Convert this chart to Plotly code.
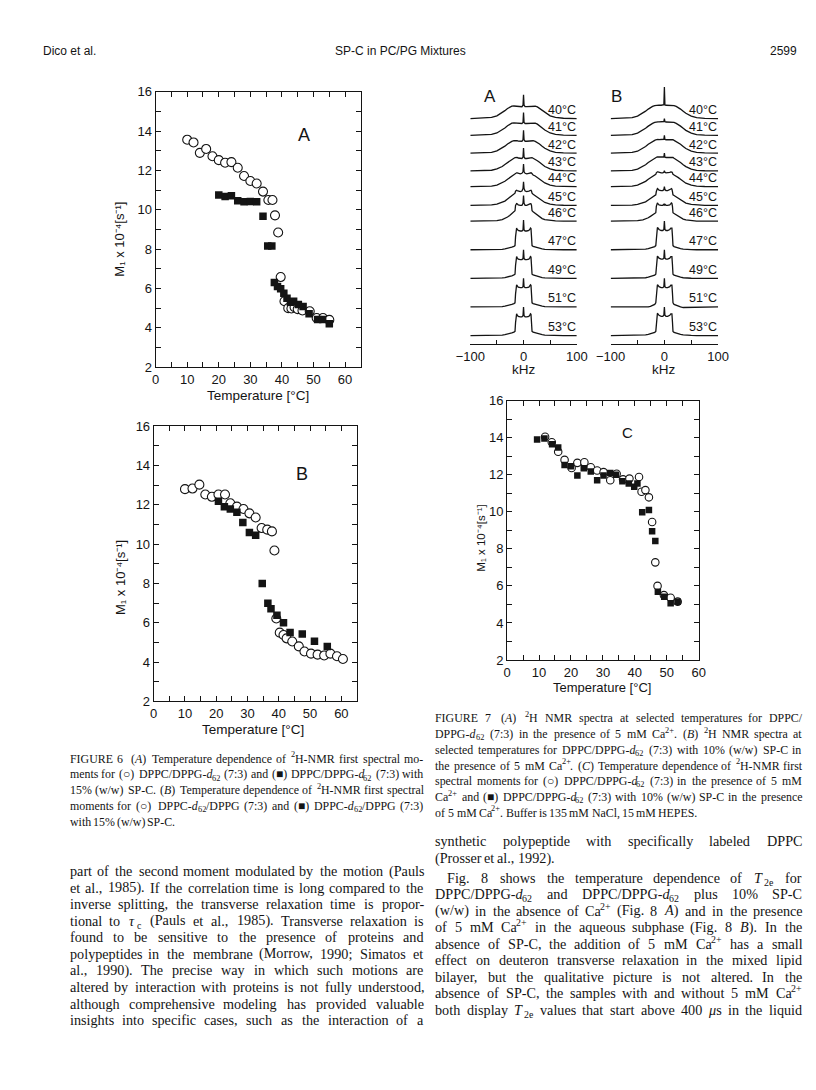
import re
import plotly.graph_objects as go

W, H = 816, 1090

# ---------------- Figure 6A data ----------------
a_circ_T = [10, 12, 14, 16, 18, 20, 22, 24, 26, 28, 30, 32, 34, 35.7, 37, 37.8, 38.8, 39.6, 40.8, 42, 43, 44, 45, 46.5, 48.8, 51, 53, 55]
a_circ_M = [13.57, 13.43, 12.9, 13.1, 12.73, 12.53, 12.4, 12.43, 12.14, 11.72, 11.47, 11.34, 10.93, 10.5, 10.5, 9.72, 8.85, 6.58, 5.35, 5.0, 4.98, 5.05, 4.95, 4.88, 4.84, 4.5, 4.5, 4.4]
a_sq_T = [20, 22, 24, 26, 28, 30, 32, 34, 35.5, 36.8, 37.6, 38.6, 39.6, 40.6, 41.6, 42.7, 43.7, 45.2, 46.7, 48.6, 51.3, 52.9, 55]
a_sq_M = [10.75, 10.68, 10.72, 10.46, 10.41, 10.43, 10.41, 9.67, 8.16, 8.16, 6.3, 6.1, 5.98, 5.76, 5.5, 5.3, 5.35, 5.18, 5.08, 4.72, 4.42, 4.42, 4.2]

# ---------------- Figure 6B data ----------------
b_circ_T = [10, 12.4, 14.6, 16.5, 18.6, 20.7, 22.8, 24.5, 26.6, 28.7, 30.6, 32.6, 34.5, 36.3, 37.8, 38.6, 39.2, 40.3, 41.5, 42.5, 44.3, 46.4, 48.2, 50.3, 52.4, 54.5, 56.5, 58.6, 60.5]
b_circ_M = [12.8, 12.83, 13.03, 12.53, 12.41, 12.53, 12.53, 12.08, 11.91, 11.79, 11.57, 11.36, 10.82, 10.74, 10.65, 9.68, 6.22, 5.5, 5.38, 5.21, 5.05, 4.8, 4.54, 4.43, 4.38, 4.34, 4.43, 4.3, 4.16]
b_sq_T = [20.7, 22.6, 24.5, 26.6, 28.5, 30.6, 32.6, 34.7, 36.5, 37.5, 39.4, 41.5, 43.6, 47.5, 51.4, 55.5]
b_sq_M = [12.19, 11.91, 11.79, 11.62, 11.1, 10.6, 10.45, 8.0, 7.0, 6.72, 6.38, 6.0, 5.51, 5.43, 5.06, 4.8]

# ---------------- Figure 7C data ----------------
c_circ_T = [11.9, 14, 16, 18, 20.2, 22, 24.2, 26.2, 28.2, 30.2, 32.3, 34.3, 36.3, 38.3, 41.3, 42.1, 43.3, 44.4, 45.4, 46.4, 47.1, 49.1, 51.2, 53.4]
c_circ_M = [14.05, 13.75, 13.24, 12.8, 12.36, 12.64, 12.67, 12.4, 12.23, 12.14, 11.7, 12.05, 11.75, 11.79, 11.88, 11.08, 11.17, 10.78, 9.45, 7.27, 6.0, 5.5, 5.36, 5.15]
c_sq_T = [9.4, 11.7, 14.1, 16, 18, 20, 22, 24, 26.2, 28.2, 30.2, 32.3, 34.1, 36.1, 38.1, 39.8, 40.8, 42.3, 44.4, 45.4, 46.4, 47.2, 49.2, 51.2, 53.4]
c_sq_M = [13.9, 13.95, 13.65, 13.47, 12.53, 12.46, 11.96, 12.35, 12.18, 11.7, 11.96, 12.1, 12.0, 11.65, 11.52, 11.35, 11.52, 9.98, 10.1, 8.95, 8.42, 5.68, 5.42, 5.06, 5.15]

# ---------------- Figure 7A/B spectra (half-spectra, symmetric) ----------------
spec_temps = [40, 41, 42, 43, 44, 45, 46, 47, 49, 51, 53]
spec_khz = [0, 1, 3, 6, 10, 12, 13, 14, 15, 16, 18, 22, 26, 30, 35, 40, 50, 60, 75, 100]

spec_a_40 = [24, 13.5, 12, 12, 12, 12.5, 12.5, 12.5, 12.7, 12.7, 12.7, 12.5, 11.8, 10.2, 8, 6, 2.8, 1.1, 0.3, 0]
spec_a_41 = [23, 13, 12, 12, 12, 12.5, 12.5, 12.5, 12.7, 12.7, 12.7, 12.3, 11.3, 9.7, 7.5, 5.4, 2.4, 0.9, 0.3, 0]
spec_a_42 = [23, 13.5, 12, 12, 12.2, 12.5, 12.7, 12.7, 12.7, 12.7, 12.5, 11.8, 10.8, 9.2, 7, 4.9, 2.2, 0.8, 0.2, 0]
spec_a_43 = [23, 14, 12.5, 12.5, 13, 13.5, 13.7, 13.7, 13.5, 13.3, 12.8, 11.8, 10.2, 8.6, 6.5, 4.4, 1.9, 0.6, 0.2, 0]
spec_a_44 = [23, 15, 13.5, 13, 13.5, 14, 14, 14, 13.7, 13, 11.8, 10.8, 9.2, 7.5, 5.4, 3.7, 1.6, 0.5, 0.2, 0]
spec_a_45 = [24, 17, 14.5, 14, 14.5, 15, 15.3, 15.3, 14.5, 12.3, 11.2, 9.6, 8, 6.4, 4.3, 2.9, 1.2, 0.4, 0.1, 0]
spec_a_46 = [26, 18, 16, 16, 16.5, 17.5, 17.7, 17.5, 16, 10.5, 9.5, 8, 5.8, 4.2, 2.6, 1.6, 0.6, 0.2, 0, 0]
spec_a_47 = [30, 20, 19, 19, 19.5, 21, 22, 21.5, 13, 4.2, 3.4, 2.6, 1.9, 1.3, 0.8, 0.4, 0.2, 0, 0, 0]
spec_a_49 = [29, 20, 19, 19, 19.5, 21, 22, 21.5, 13, 4.2, 3.4, 2.6, 1.9, 1.3, 0.8, 0.4, 0.2, 0, 0, 0]
spec_a_51 = [29, 20.5, 19.5, 19.5, 20, 21.5, 22.5, 22, 13, 4.2, 3.4, 2.6, 1.9, 1.3, 0.8, 0.4, 0.2, 0, 0, 0]
spec_a_53 = [29, 20, 19, 19, 19.5, 21, 22, 21.5, 13, 4.2, 3.4, 2.6, 1.9, 1.3, 0.8, 0.4, 0.2, 0, 0, 0]

spec_b_40 = [32, 14, 13.5, 13.5, 13.7, 13.7, 13.7, 13.7, 13.7, 13.5, 13.2, 12.3, 11.2, 9.6, 7.5, 5.3, 2.5, 0.9, 0.2, 0]
spec_b_41 = [17, 14, 13.5, 13.5, 13.7, 13.7, 13.7, 13.7, 13.7, 13.5, 13.1, 12.1, 10.9, 9.3, 7.1, 5, 2.2, 0.8, 0.2, 0]
spec_b_42 = [18, 14, 13.5, 13.5, 13.7, 13.8, 13.8, 13.8, 13.7, 13.5, 12.9, 11.8, 10.5, 8.9, 6.7, 4.6, 1.9, 0.6, 0.2, 0]
spec_b_43 = [18, 14, 13.5, 13.5, 14, 14.2, 14.2, 14, 13.8, 13.5, 12.7, 11.5, 10, 8.4, 6.2, 4.3, 1.7, 0.5, 0.1, 0]
spec_b_44 = [16, 14.5, 14, 14, 14.5, 15, 15, 14.8, 14, 12.4, 11.8, 10.7, 9.1, 7.5, 5.3, 3.5, 1.5, 0.4, 0.1, 0]
spec_b_45 = [19, 16, 15, 15, 15.5, 16.5, 17, 16.5, 14, 10.7, 10, 8.6, 7, 5.4, 3.5, 2.3, 0.9, 0.3, 0, 0]
spec_b_46 = [16, 17, 16, 16, 16.5, 17.7, 18.5, 18, 15, 8.5, 7.8, 6.4, 4.8, 3.4, 2.1, 1.3, 0.5, 0.1, 0, 0]
spec_b_47 = [29, 20.5, 19.5, 19.5, 20.5, 22, 22.5, 22, 14, 4.2, 3.2, 2.3, 1.6, 1.1, 0.6, 0.3, 0.1, 0, 0, 0]
spec_b_49 = [29, 20.5, 19.5, 19.5, 20.5, 22, 22.5, 22, 14, 4.2, 3.2, 2.3, 1.6, 1.1, 0.6, 0.3, 0.1, 0, 0, 0]
spec_b_51 = [29, 20.5, 19.5, 19.5, 20.5, 22, 22.5, 22, 14, 4.2, 2.6, 1.5, 0.5, 0, -0.6, -0.6, 0, 0, 0, 0]
spec_b_53 = [29, 20.5, 19.5, 19.5, 20.5, 22, 22.5, 22, 14, 4.2, 3.2, 2.3, 1.6, 1.1, 0.6, 0.3, 0.1, 0, 0, 0]

spec_a_rows = [spec_a_40, spec_a_41, spec_a_42, spec_a_43, spec_a_44, spec_a_45, spec_a_46, spec_a_47, spec_a_49, spec_a_51, spec_a_53]
spec_b_rows = [spec_b_40, spec_b_41, spec_b_42, spec_b_43, spec_b_44, spec_b_45, spec_b_46, spec_b_47, spec_b_49, spec_b_51, spec_b_53]

# ---------------- Text ----------------
header_left = "Dico et al."
header_mid = "SP-C in PC/PG Mixtures"
header_right = "2599"

caption6 = [
    "FIGURE 6 \u00a0(<i>A</i>) Temperature dependence of <sup>2</sup>H-NMR first spectral mo-",
    "ments for (○) DPPC/DPPG-<i>d</i><sub>62</sub> (7:3) and (■) DPPC/DPPG-<i>d</i><sub>62</sub> (7:3) with",
    "15% (w/w) SP-C. (<i>B</i>) Temperature dependence of <sup>2</sup>H-NMR first spectral",
    "moments for (○) DPPC-<i>d</i><sub>62</sub>/DPPG (7:3) and (■) DPPC-<i>d</i><sub>62</sub>/DPPG (7:3)",
    "with 15% (w/w) SP-C.",
]
caption7 = [
    "FIGURE 7 \u00a0(<i>A</i>) <sup>2</sup>H NMR spectra at selected temperatures for DPPC/",
    "DPPG-<i>d</i><sub>62</sub> (7:3) in the presence of 5 mM Ca<sup>2+</sup>. (<i>B</i>) <sup>2</sup>H NMR spectra at",
    "selected temperatures for DPPC/DPPG-<i>d</i><sub>62</sub> (7:3) with 10% (w/w) SP-C in",
    "the presence of 5 mM Ca<sup>2+</sup>. (<i>C</i>) Temperature dependence of <sup>2</sup>H-NMR first",
    "spectral moments for (○) DPPC/DPPG-<i>d</i><sub>62</sub> (7:3) in the presence of 5 mM",
    "Ca<sup>2+</sup> and (■) DPPC/DPPG-<i>d</i><sub>62</sub> (7:3) with 10% (w/w) SP-C in the presence",
    "of 5 mM Ca<sup>2+</sup>. Buffer is 135 mM NaCl, 15 mM HEPES.",
]
body_left = [
    "part of the second moment modulated by the motion (Pauls",
    "et al., 1985). If the correlation time is long compared to the",
    "inverse splitting, the transverse relaxation time is propor-",
    "tional to <i>τ</i><sub>c</sub> (Pauls et al., 1985). Transverse relaxation is",
    "found to be sensitive to the presence of proteins and",
    "polypeptides in the membrane (Morrow, 1990; Simatos et",
    "al., 1990). The precise way in which such motions are",
    "altered by interaction with proteins is not fully understood,",
    "although comprehensive modeling has provided valuable",
    "insights into specific cases, such as the interaction of a",
]
body_right = [
    "synthetic polypeptide with specifically labeled DPPC",
    "(Prosser et al., 1992).",
    "Fig. 8 shows the temperature dependence of <i>T</i><sub>2e</sub> for",
    "DPPC/DPPG-<i>d</i><sub>62</sub> and DPPC/DPPG-<i>d</i><sub>62</sub> plus 10% SP-C",
    "(w/w) in the absence of Ca<sup>2+</sup> (Fig. 8 <i>A</i>) and in the presence",
    "of 5 mM Ca<sup>2+</sup> in the aqueous subphase (Fig. 8 <i>B</i>). In the",
    "absence of SP-C, the addition of 5 mM Ca<sup>2+</sup> has a small",
    "effect on deuteron transverse relaxation in the mixed lipid",
    "bilayer, but the qualitative picture is not altered. In the",
    "absence of SP-C, the samples with and without 5 mM Ca<sup>2+</sup>",
    "both display <i>T</i><sub>2e</sub> values that start above 400 <i>μ</i>s in the liquid",
]


def px(x):
    return x / W


def py(y):
    return 1 - y / H


SANS = "Liberation Sans, Arial, Helvetica, sans-serif"
SERIF = "Liberation Serif, Times New Roman, serif"
INK = "#141414"

fig = go.Figure()


# ---- scatter panels ----
def add_scatter(xa, ya, cT, cM, sT, sM, csize, ssize):
    fig.add_trace(go.Scatter(x=cT, y=cM, mode="markers", xaxis=xa, yaxis=ya,
                             marker=dict(symbol="circle", size=csize, color="white",
                                         line=dict(color=INK, width=1.1)),
                             hoverinfo="skip"))
    fig.add_trace(go.Scatter(x=sT, y=sM, mode="markers", xaxis=xa, yaxis=ya,
                             marker=dict(symbol="square", size=ssize, color=INK,
                                         line=dict(color=INK, width=0)),
                             hoverinfo="skip"))


add_scatter("x", "y", a_circ_T, a_circ_M, a_sq_T, a_sq_M, 9, 7.5)
add_scatter("x2", "y2", b_circ_T, b_circ_M, b_sq_T, b_sq_M, 9, 7.5)
add_scatter("x3", "y3", c_circ_T, c_circ_M, c_sq_T, c_sq_M, 7.5, 6.5)

# ---- spectra ----
spec_offsets = [229, 212, 194, 176, 160, 141, 125, 96, 67, 38, 9]
xs_full = [-k for k in reversed(spec_khz)] + spec_khz[1:]
for xa, ya, rows in (("x4", "y4", spec_a_rows), ("x5", "y5", spec_b_rows)):
    for off, h in zip(spec_offsets, rows):
        ys = list(reversed(h)) + h[1:]
        fig.add_trace(go.Scatter(x=xs_full, y=[off + v for v in ys], mode="lines",
                                 xaxis=xa, yaxis=ya, line=dict(color=INK, width=1.3),
                                 hoverinfo="skip"))


def frame_axes(xd, yd, xr, anchor_x, anchor_y):
    tf = dict(family=SANS, size=13, color=INK)
    common = dict(showline=True, linecolor=INK, linewidth=1, mirror="ticks",
                  ticks="inside", ticklen=5, tickwidth=1, tickcolor=INK,
                  showgrid=False, zeroline=False, tickfont=tf, fixedrange=True)
    xa = dict(common, domain=xd, range=xr, tick0=0, dtick=10, anchor=anchor_y,
              minor=dict(tick0=0, dtick=5, ticks="inside", ticklen=5, tickcolor=INK, tickwidth=1, showgrid=False))
    ya = dict(common, domain=yd, range=[2, 16], tick0=0, dtick=2, anchor=anchor_x,
              minor=dict(tick0=0, dtick=1, ticks="inside", ticklen=5, tickcolor=INK, tickwidth=1, showgrid=False))
    return xa, ya


xa1, ya1 = frame_axes([px(137), px(349)], [py(357), py(78)], [0, 65], "x", "y")
xa2, ya2 = frame_axes([px(135), px(345)], [py(696), py(417)], [0, 65], "x2", "y2")
xa3, ya3 = frame_axes([px(500), px(698)], [py(654), py(391)], [0, 60], "x3", "y3")


def spec_axes(xd, anchor_y, anchor_x):
    xa = dict(domain=xd, range=[-100, 100], anchor=anchor_y, showline=True, linecolor=INK,
              linewidth=1, ticks="inside", ticklen=4, tickcolor=INK, tickwidth=1,
              tickvals=[-100, -50, 0, 50, 100], ticktext=["\u2212100", " ", "0", " ", "100"],
              tickfont=dict(family=SANS, size=13, color=INK), showgrid=False, zeroline=False,
              fixedrange=True)
    ya = dict(domain=[py(334), py(70)], range=[0, 264], visible=False, fixedrange=True,
              anchor=anchor_x)
    return xa, ya


xa4, ya4 = spec_axes([px(462), px(572)], "y4", "x4")
xa5, ya5 = spec_axes([px(607), px(718)], "y5", "x5")

annotations = []


def ann(text, x, y, size, family=SANS, xanchor="center", yanchor="middle", angle=0):
    annotations.append(dict(text=text, x=px(x), y=py(y), xref="paper", yref="paper",
                            showarrow=False, font=dict(family=family, size=size, color=INK),
                            xanchor=xanchor, yanchor=yanchor, textangle=angle, borderpad=0))


# header
ann(header_left, 20, 37, 12, xanchor="left")
ann(header_mid, 390, 37, 12)
ann(header_right, 800, 37, 12, xanchor="right")

# axis titles for scatter panels (unicode sub/superscripts)
ylab = "M\u2081 x 10\u207b\u2074[s\u207b\u00b9]"
tlab = "Temperature [°C]"
ann(ylab, 100, 227, 13, angle=-90)
ann(ylab, 100, 570, 13, angle=-90)
ann(ylab, 473, 530, 11.5, angle=-90)
ann(tlab, 243, 386, 13.5)
ann(tlab, 238, 724, 13.5)
ann(tlab, 598, 682, 13)
ann("A", 290, 122, 18)
ann("B", 288, 465, 18)
ann("C", 624, 423, 15)

# spectra labels
ann("A", 482, 83, 17)
ann("B", 613, 83, 17)
ann("kHz", 517, 359, 13.5)
ann("kHz", 662, 359, 13.5)
for xr, yr in (("x4", "y4"), ("x5", "y5")):
    for t, off in zip(spec_temps, spec_offsets):
        annotations.append(dict(text=f"{t}°C", x=100, y=off + 0.5, xref=xr, yref=yr,
                                showarrow=False, xanchor="right", yanchor="bottom", borderpad=0,
                                font=dict(family=SANS, size=12.5, color=INK)))

# ---- justified serif text (word by word, sub/sup drawn as separate small pieces) ----
TW = {' ': 250, '\u00a0': 250, '!': 333, '(': 333, ')': 333, ',': 250, '-': 333, '.': 250, '/': 278,
      ':': 278, ';': 278, '%': 833, '+': 564, '?': 444, '[': 333, ']': 333, '○': 700, '■': 600,
      'τ': 440, 'μ': 500,
      'A': 722, 'B': 667, 'C': 667, 'D': 722, 'E': 611, 'F': 556, 'G': 722, 'H': 722, 'I': 333,
      'J': 389, 'K': 722, 'L': 611, 'M': 889, 'N': 722, 'O': 722, 'P': 556, 'Q': 722, 'R': 667,
      'S': 556, 'T': 611, 'U': 722, 'V': 722, 'W': 944, 'X': 722, 'Y': 722, 'Z': 611,
      'a': 444, 'b': 500, 'c': 444, 'd': 500, 'e': 444, 'f': 333, 'g': 500, 'h': 500, 'i': 278,
      'j': 278, 'k': 500, 'l': 278, 'm': 778, 'n': 500, 'o': 500, 'p': 500, 'q': 500, 'r': 333,
      's': 389, 't': 278, 'u': 500, 'v': 500, 'w': 722, 'x': 500, 'y': 500, 'z': 444}
ITALIC_GAP = 0.14  # extra room (in em) after an italic letter that is followed by a subscript


def plain_em(text):
    total = 0.0
    for tok in re.split(r"(<[^>]+>)", text):
        if tok.startswith("<"):
            continue
        for c in tok:
            total += TW.get(c, 500)
    return total / 1000.0


def segments(word):
    segs = []
    mode = "n"
    for tok in re.split(r"(</?su[pb]>)", word):
        if tok in ("<sup>", "<sub>"):
            mode = tok[1:4]
            continue
        if tok in ("</sup>", "</sub>"):
            mode = "n"
            continue
        if tok:
            segs.append((tok, mode))
    return segs


def seg_layout(word, fs):
    """Return list of (text, x_offset, dy, size) and total width for a word."""
    out = []
    x = 0.0
    prev = ""
    for t, m in segments(word):
        s = fs * (0.7 if m != "n" else 1.0)
        if m == "sub" and prev.endswith("</i>"):
            x += ITALIC_GAP * fs
        dy = 0.31 * fs if m == "sub" else (-0.33 * fs if m == "sup" else 0.0)
        out.append((t, x, dy, s))
        x += plain_em(t) * s
        prev = t
    return out, x


def place_line(line, x0, x1, y, fs, justify):
    words = line.split(" ")
    n = len(words)
    avail = x1 - x0
    unit = [seg_layout(w, 1.0)[1] for w in words]
    min_gap = 0.2
    need = sum(unit) + min_gap * (n - 1)
    if need * fs > avail:
        fs = avail / need
    widths = [u * fs for u in unit]
    gap = 0.25 * fs
    if justify and n > 1:
        gap = (avail - sum(widths)) / (n - 1)
    x = x0
    for w, wd in zip(words, widths):
        parts, _ = seg_layout(w, fs)
        for t, xo, dy, s in parts:
            ann(t, x + xo, y + dy, round(s, 2), family=SERIF, xanchor="left")
        x += wd + gap


CAP_FS = 11.9
BODY_FS = 14.2
for i, line in enumerate(caption6):
    place_line(line, 47, 412, 754 + 16 * i, CAP_FS, i < len(caption6) - 1)
for i, line in enumerate(caption7):
    place_line(line, 425, 803, 713 + 16 * i, CAP_FS, i < len(caption7) - 1)
for i, line in enumerate(body_left):
    place_line(line, 47, 412, 868 + 16.8 * i, BODY_FS, True)
right_y = [838, 855, 875, 891.7, 908.4, 925.1, 941.8, 958.5, 975.2, 991.9, 1008.6]
for i, line in enumerate(body_right):
    x0 = 437 if i == 2 else 425
    place_line(line, x0, 803, right_y[i], BODY_FS, i != 1)

fig.update_layout(
    width=W, height=H, margin=dict(l=0, r=0, t=0, b=0),
    paper_bgcolor="white", plot_bgcolor="white", showlegend=False,
    xaxis=xa1, yaxis=ya1, xaxis2=xa2, yaxis2=ya2, xaxis3=xa3, yaxis3=ya3,
    xaxis4=xa4, yaxis4=ya4, xaxis5=xa5, yaxis5=ya5,
    annotations=annotations,
)

fig.write_html("out.html")
